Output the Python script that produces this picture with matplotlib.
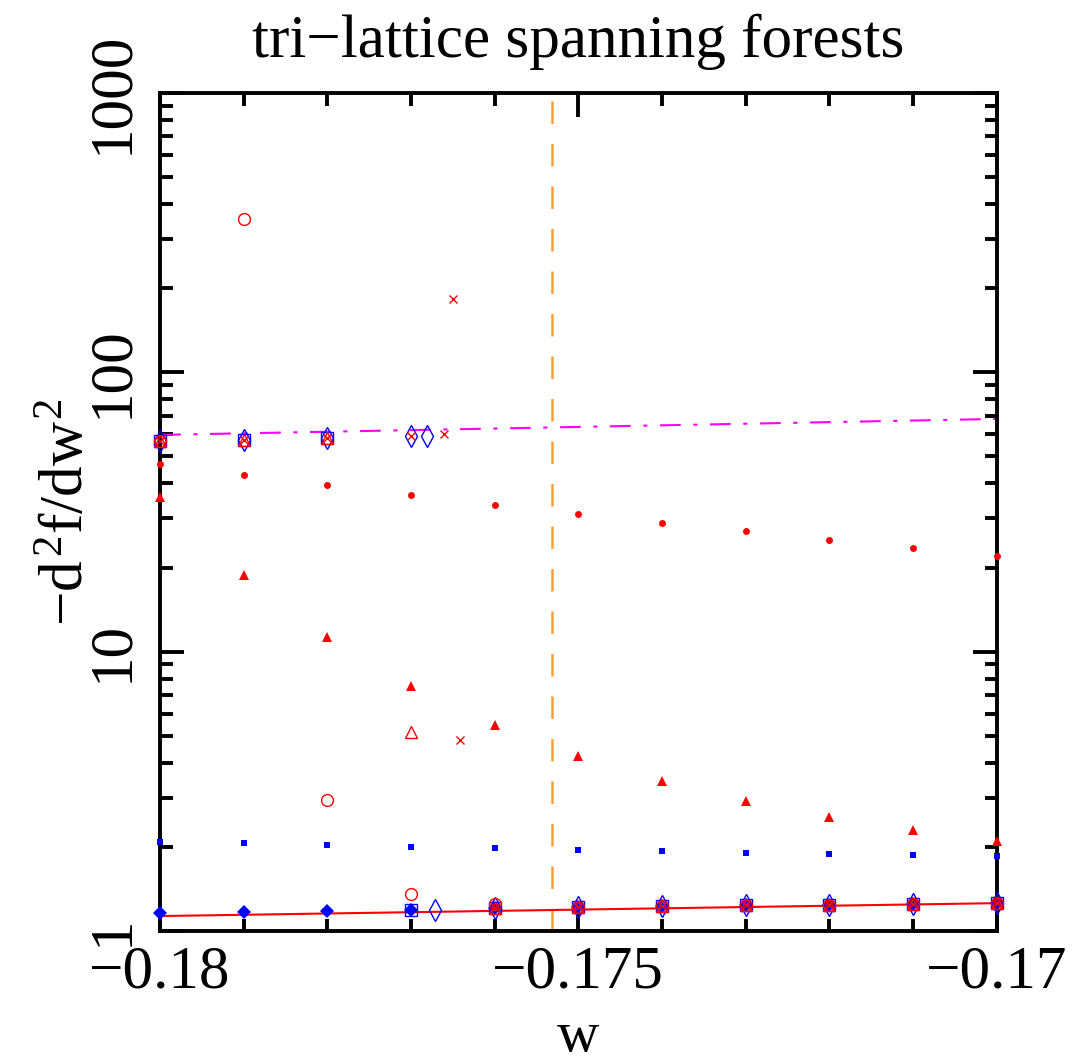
import matplotlib
matplotlib.use("Agg")
import matplotlib.pyplot as plt
import numpy as np

plt.rcParams["font.family"] = "Liberation Serif"
plt.rcParams["mathtext.fontset"] = "custom"
plt.rcParams["mathtext.rm"] = "Liberation Serif"
plt.rcParams["mathtext.it"] = "Liberation Serif"

# w grid
w = [-0.180, -0.179, -0.178, -0.177, -0.176, -0.175, -0.174, -0.173, -0.172, -0.171, -0.170]

# filled markers
red_dots = [47.0, 42.9, 39.6, 36.4, 33.5, 31.1, 28.9, 27.1, 25.1, 23.5, 22.0]
red_tri = [35.8, 18.8, 11.3, 7.55, 5.47, 4.23, 3.44, 2.92, 2.56, 2.30, 2.10]
blue_sq = [2.088, 2.071, 2.037, 2.004, 1.988, 1.955, 1.939, 1.907, 1.891, 1.876, 1.861]
blue_dia = [1.160, 1.168, 1.176, 1.186, 1.205, 1.216, 1.225, 1.234, 1.243, 1.252, 1.262]

# open markers / crosses
circ_w = w
circ_y = [56.8, 354, 2.94, 1.357, 1.249, 1.216, 1.225, 1.234, 1.243, 1.252, 1.262]
osq_w = w
osq_y = [56.8, 57.3, 58.2, 1.186, 1.205, 1.216, 1.225, 1.234, 1.243, 1.252, 1.262]
cross_w = [-0.180, -0.179, -0.178, -0.177, -0.17661, -0.1765, -0.17641,
           -0.176, -0.175, -0.174, -0.173, -0.172, -0.171, -0.170]
cross_y = [56.8, 57.3, 58.2, 59.1, 60.2, 183, 4.83,
           1.205, 1.216, 1.225, 1.234, 1.243, 1.252, 1.262]
odia_w = [-0.180, -0.179, -0.178, -0.177, -0.17681, -0.17671,
          -0.176, -0.175, -0.174, -0.173, -0.172, -0.171, -0.170]
odia_y = [56.8, 57.3, 58.2, 59.1, 59.1, 1.186,
          1.205, 1.216, 1.225, 1.234, 1.243, 1.252, 1.262]
otri_w = w
otri_y = [56.8, 57.3, 58.2, 5.17, 1.205, 1.216, 1.225, 1.234, 1.243, 1.252, 1.262]

# lines
line_w = [-0.180, -0.170]
red_line = [1.131, 1.258]
mag_line = [59.7, 68.1]
w_crit = -0.17532

fig = plt.figure(figsize=(10.74, 10.64), dpi=100)
ax = fig.add_axes([0.149, 0.125, 0.779, 0.7876])

ax.axvline(w_crit, color="#f7a040", linewidth=1.8, dashes=(9, 8))
ax.plot(line_w, mag_line, color="#ff00ff", linewidth=1.5, dashes=(10, 6, 2, 6))
ax.plot(line_w, red_line, color="#ff0000", linewidth=1.5)

mk = dict(linestyle="none", clip_on=False, zorder=4)
ax.plot(w, red_dots, "o", color="#ff0000", markersize=5, markeredgewidth=0, **mk)
ax.plot(w, red_tri, "^", color="#ff0000", markersize=7, markeredgewidth=0, **mk)
ax.plot(w, blue_sq, "s", color="#0000ff", markersize=5, markeredgewidth=0, **mk)
ax.plot(w, blue_dia, "D", color="#0000ff", markersize=7, markeredgewidth=0, **mk)

ax.plot(osq_w, osq_y, "s", mfc="none", mec="#0000ff", markersize=8, markeredgewidth=1, **mk)
ax.plot(odia_w, odia_y, "d", mfc="none", mec="#0000ff", markersize=11, markeredgewidth=1, **mk)
ax.plot(otri_w, otri_y, "^", mfc="none", mec="#ff0000", markersize=8, markeredgewidth=1, **mk)
ax.plot(circ_w, circ_y, "o", mfc="none", mec="#ff0000", markersize=8.5, markeredgewidth=1, **mk)
ax.plot(cross_w, cross_y, "x", color="#ff0000", markersize=6, markeredgewidth=1, **mk)

ax.set_yscale("log")
ax.set_xlim(-0.180, -0.170)
ax.set_ylim(1, 1000)

ax.set_xticks([-0.180, -0.175, -0.170])
ax.set_xticklabels(["\u22120.18", "\u22120.175", "\u22120.17"])
ax.set_xticks(np.arange(-0.180, -0.1699, 0.001), minor=True)
ax.set_yticks([1, 10, 100, 1000])
ax.set_yticklabels(["1", "10", "100", "1000"], rotation=90, va="center")

ax.tick_params(which="both", direction="in", top=True, right=True, width=2.8, labelsize=44)
ax.tick_params(which="major", length=17)
ax.tick_params(which="minor", length=9)
ax.tick_params(axis="x", which="major", pad=10)
ax.tick_params(axis="y", which="major", pad=14)
for s in ax.spines.values():
    s.set_linewidth(2.8)

ax.set_title("tri\u2212lattice spanning forests", fontsize=44, pad=26)
ax.set_xlabel("w", fontsize=42, labelpad=8)
ax.set_ylabel(r"$-d^2f/dw^2$", fontsize=44, labelpad=-8)

fig.savefig("out.png", dpi=100)
